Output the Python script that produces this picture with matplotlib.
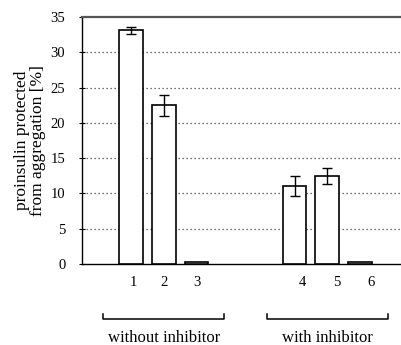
import matplotlib
matplotlib.use("Agg")
import matplotlib.pyplot as plt
import numpy as np

plt.rcParams['font.family'] = ['Liberation Serif', 'DejaVu Serif']

labels = ["1", "2", "3", "4", "5", "6"]
values = [33.1, 22.5, 0.25, 11.1, 12.5, 0.25]
errors = [0.5, 1.5, 0.0, 1.4, 1.1, 0.0]
groups = ["without inhibitor", "with inhibitor"]
yticks = [0, 5, 10, 15, 20, 25, 30, 35]
ylabel = "proinsulin protected\nfrom aggregation [%]"

pos = np.array([0, 1, 2, 5, 6, 7], dtype=float)
label_pos = pos + np.array([0.06, 0.0, 0.0, 0.25, 0.3, 0.35])

fig = plt.figure(figsize=(4.02, 3.45), dpi=100)
ax = fig.add_axes([0.204, 0.2348, 0.854, 0.7159])

ax.bar(pos, values, width=0.73, color="white", edgecolor="black", linewidth=1.2, zorder=3)
mask = np.array(errors) > 0
ax.errorbar(pos[mask], np.array(values)[mask], yerr=np.array(errors)[mask],
            fmt="none", ecolor="black", elinewidth=1.0, capsize=3.5, capthick=1.0, zorder=4)

ax.set_xlim(-1.5, 9.0)
ax.set_ylim(0, 35)
ax.set_yticks(yticks)
ax.set_xticks(label_pos)
ax.set_xticklabels(labels)
ax.tick_params(axis="x", length=0, pad=9, labelsize=10.5)
ax.tick_params(axis="y", direction="inout", length=4, width=0.8, labelsize=10.5, pad=10)
for y in yticks[1:-1]:
    ax.axhline(y, color="#444444", linestyle=(0, (1, 2.2)), linewidth=0.9, zorder=1)

ax.spines["right"].set_visible(False)
ax.spines["top"].set_color("#555555")
ax.spines["top"].set_linewidth(1.6)
ax.spines["left"].set_linewidth(1.0)
ax.spines["bottom"].set_linewidth(1.0)

ax.set_ylabel(ylabel, fontsize=12.5, linespacing=1.0, labelpad=3)

trans = matplotlib.transforms.blended_transform_factory(ax.transData, ax.transAxes)
group_ranges = [(pos[0], pos[2]), (pos[3], pos[5])]
for name, (a, b) in zip(groups, group_ranges):
    x0, x1 = a - 0.85, b + 0.85
    yb = -0.223
    ax.plot([x0, x0, x1, x1], [yb + 0.02, yb, yb, yb + 0.02], color="black",
            linewidth=1.1, transform=trans, clip_on=False)
    ax.text((x0 + x1) / 2, -0.30, name, transform=trans, ha="center", va="center",
            fontsize=12)

fig.savefig("out.png", dpi=100)
